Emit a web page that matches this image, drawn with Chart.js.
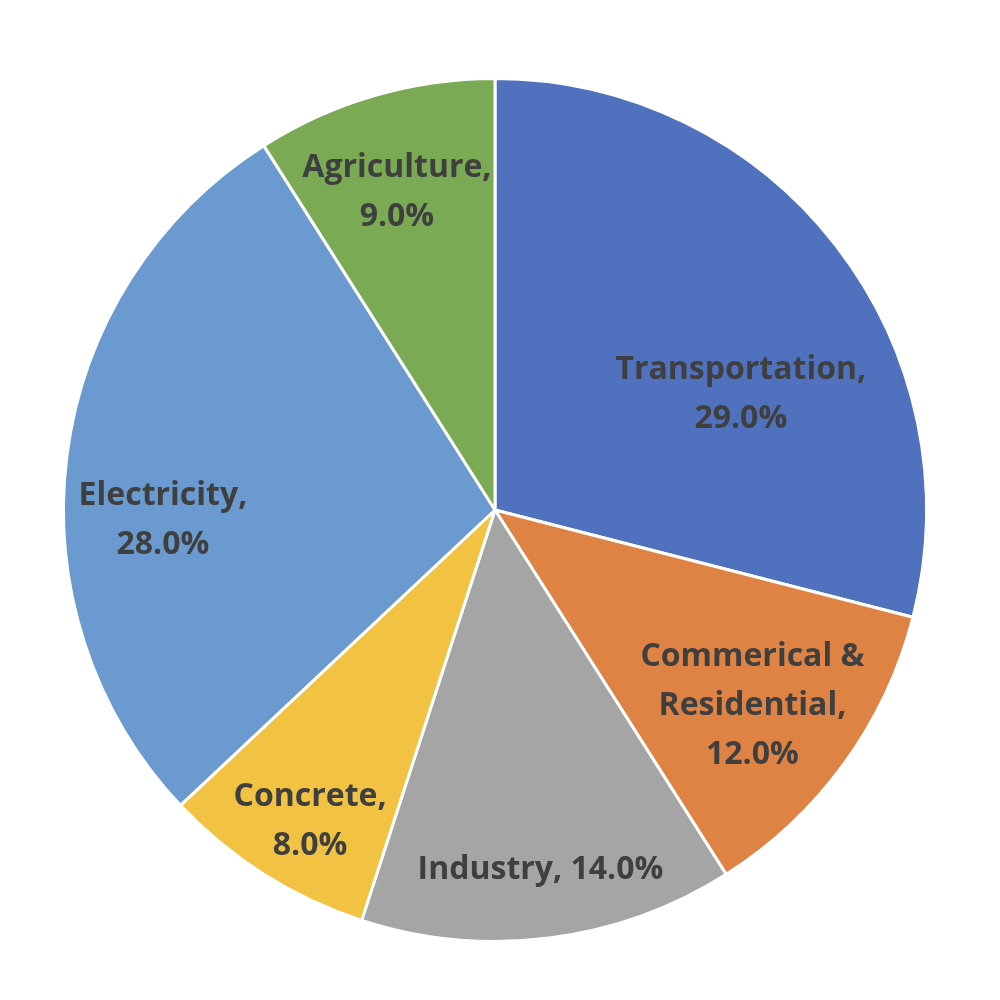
<!DOCTYPE html>
<html>
<head>
<meta charset="utf-8">
<script src="https://cdn.jsdelivr.net/npm/chart.js@4"></script>
<style>
  html, body { margin: 0; padding: 0; background: #fff; }
  #pie { display: block; }
</style>
</head>
<body>
<canvas id="pie" width="1000" height="1000"></canvas>
<script>
// sectors, clockwise from 12 o'clock
const sectors = ['Transportation', 'Commerical & Residential', 'Industry', 'Concrete', 'Electricity', 'Agriculture'];
const shares = [29.0, 12.0, 14.0, 8.0, 28.0, 9.0];
const colours = ['#4F71BE', '#DE8344', '#A5A5A5', '#F2C242', '#6A9AD0', '#7BAA55'];
// how each label is broken into lines
const labelLines = [
  ['Transportation,', '{v}'],
  ['Commerical &', 'Residential,', '{v}'],
  ['Industry, {v}'],
  ['Concrete,', '{v}'],
  ['Electricity,', '{v}'],
  ['Agriculture,', '{v}']
];
// where the label sits: share of radius, share of the slice's sweep
const labelRadius = [0.63, 0.75, 0.84, 0.84, 0.77, 0.77];
const labelSweep = [0.62, 0.53, 0.50, 0.44, 0.41, 0.47];

const sliceLabels = {
  id: 'sliceLabels',
  afterDatasetsDraw(chart) {
    const ctx = chart.ctx;
    const arcs = chart.getDatasetMeta(0).data;
    ctx.save();
    ctx.font = 'bold 32px "Open Sans"';
    ctx.fillStyle = '#3f3f3f';
    ctx.textAlign = 'center';
    ctx.textBaseline = 'middle';
    arcs.forEach((arc, i) => {
      const p = arc.getProps(['x', 'y', 'startAngle', 'endAngle', 'outerRadius'], true);
      const a = p.startAngle + (p.endAngle - p.startAngle) * labelSweep[i];
      const r = p.outerRadius * labelRadius[i];
      const cx = p.x + Math.cos(a) * r;
      const cy = p.y + Math.sin(a) * r;
      const lines = labelLines[i].map(s => s.replace('{v}', shares[i].toFixed(1) + '%'));
      const lh = 49;
      lines.forEach((s, k) => {
        ctx.fillText(s, cx, cy + (k - (lines.length - 1) / 2) * lh);
      });
    });
    ctx.restore();
  }
};

new Chart(document.getElementById('pie'), {
  type: 'pie',
  data: {
    labels: sectors,
    datasets: [{
      data: shares,
      backgroundColor: colours,
      borderColor: '#ffffff',
      borderWidth: 3
    }]
  },
  options: {
    responsive: false,
    animation: false,
    devicePixelRatio: 1,
    layout: { padding: { left: 62, right: 72, top: 77, bottom: 57 } },
    plugins: {
      legend: { display: false },
      tooltip: { enabled: false }
    }
  },
  plugins: [sliceLabels]
});
</script>
</body>
</html>
